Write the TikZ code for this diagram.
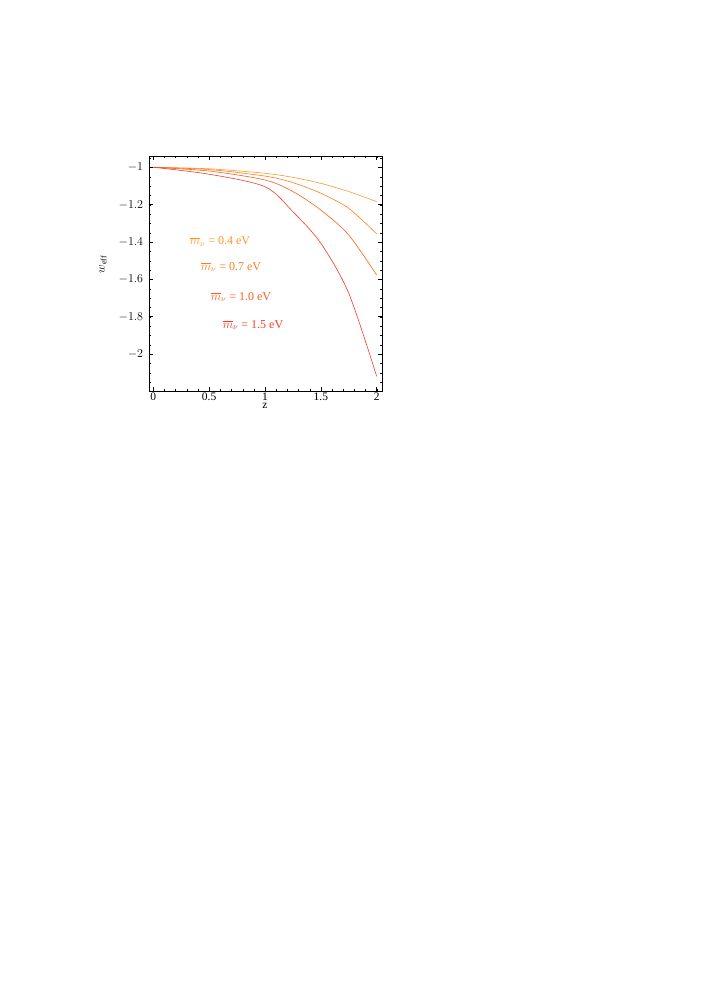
\documentclass[tikz,border=0pt]{standalone}
\usepackage{fontspec}
\setmainfont{Liberation Serif}
\definecolor{cA}{RGB}{255,150,40}
\definecolor{cB}{RGB}{255,125,30}
\definecolor{cC}{RGB}{250,95,25}
\definecolor{cD}{RGB}{245,60,35}
\tikzset{
    curve/.style = {line width=0.6pt, smooth},
    ticklab/.style = {font=\fontsize{11.5}{13}\selectfont},
    mlab/.style = {font=\fontsize{12}{14}\selectfont}
}
\newcommand{\mnu}{$\overline{m}_{\nu}$}

\begin{document}
\begin{tikzpicture}[x=111.7pt,y=186.7pt]
        \useasboundingbox (-1.3724,-0.1039) rectangle (4.966,-5.4708);
        % Frame and ticks
        \draw[line width=0.4pt] (-0.04,-2.198) rectangle (2.05,-0.94);
        \foreach \z in {0,0.1,...,2.01} {
            \draw[line width=0.3pt] (\z,-2.198) -- ++(0,2pt);
            \draw[line width=0.3pt] (\z,-0.94) -- ++(0,-2pt);
        }
        \foreach \z in {0,0.5,1,1.5,2} {
            \draw[line width=0.4pt] (\z,-2.198) -- ++(0,4pt);
            \draw[line width=0.4pt] (\z,-0.94) -- ++(0,-4pt);
            \node[ticklab, anchor=north, inner sep=2pt] at (\z,-2.198) {\z};
        }
        \foreach \w in {-2.15,-2.1,...,-0.94} {
            \draw[line width=0.3pt] (-0.04,\w) -- ++(2pt,0);
            \draw[line width=0.3pt] (2.05,\w) -- ++(-2pt,0);
        }
        \foreach \w/\t in {-1/$-1$,-1.2/$-1.2$,-1.4/$-1.4$,-1.6/$-1.6$,-1.8/$-1.8$,-2/$-2$} {
            \draw[line width=0.4pt] (-0.04,\w) -- ++(4pt,0);
            \draw[line width=0.4pt] (2.05,\w) -- ++(-4pt,0);
            \node[ticklab, anchor=east] at (-0.06,\w) {\t};
        }
        % Axis labels
        \node (xlab) [ticklab, anchor=north, inner sep=0pt] at (1,-2.262) {z};
        \node (ylab) [mlab, rotate=90] at (-0.45,-1.52) {$w_{\rm eff}$};

        % Curves
        \draw[curve, cA] plot coordinates {(0,-1) (0.5,-1.008) (1,-1.032) (1.25,-1.054) (1.5,-1.086) (1.75,-1.13) (2,-1.184)};
        \draw[curve, cB] plot coordinates {(0,-1) (0.5,-1.012) (1,-1.047) (1.25,-1.082) (1.5,-1.139) (1.75,-1.22) (2,-1.357)};
        \draw[curve, cC] plot coordinates {(0,-1) (0.5,-1.02) (1,-1.068) (1.25,-1.13) (1.5,-1.229) (1.75,-1.363) (2,-1.577)};
        \draw[curve, cD] plot coordinates {(0,-1) (0.5,-1.037) (1,-1.104) (1.25,-1.238) (1.5,-1.407) (1.75,-1.675) (2,-2.12)};

        % Labels
        \node (m1) [mlab, text=cA] at (0.597,-1.398) {\mnu\ = 0.4 eV};
        \node (m2) [mlab, text=cB] at (0.696,-1.534) {\mnu\ = 0.7 eV};
        \node (m3) [mlab, text=cC] at (0.785,-1.695) {\mnu\ = 1.0 eV};
        \node (m4) [mlab, text=cD] at (0.893,-1.845) {\mnu\ = 1.5 eV};
    \end{tikzpicture}
\end{document}
